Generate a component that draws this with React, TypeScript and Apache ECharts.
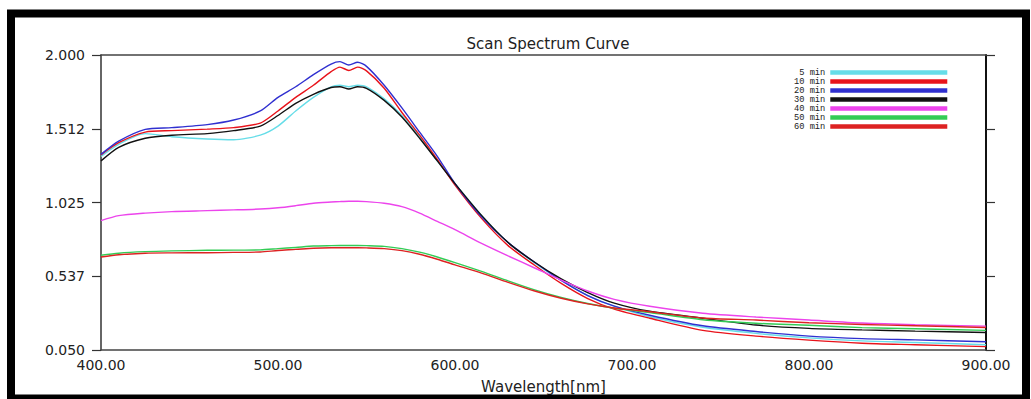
import React, { useEffect, useRef } from "react";
import * as echarts from "echarts";

const wavelengths = [400, 410, 425, 440, 460, 475, 490, 500, 510, 520, 530, 535, 540, 545, 550, 560, 570, 580, 590, 600, 615, 630, 645, 660, 675, 690, 710, 740, 770, 800, 830, 860, 900];

const min5 = [1.33, 1.41, 1.48, 1.46, 1.445, 1.44, 1.47, 1.53, 1.63, 1.72, 1.79, 1.8, 1.79, 1.8, 1.79, 1.71, 1.6, 1.46, 1.3, 1.15, 0.94, 0.76, 0.625, 0.51, 0.41, 0.34, 0.27, 0.2, 0.16, 0.13, 0.11, 0.1, 0.085];
const min10 = [1.34, 1.42, 1.49, 1.5, 1.51, 1.52, 1.55, 1.63, 1.72, 1.8, 1.89, 1.92, 1.898, 1.92, 1.895, 1.78, 1.62, 1.47, 1.31, 1.14, 0.92, 0.74, 0.61, 0.49, 0.39, 0.32, 0.26, 0.18, 0.142, 0.115, 0.095, 0.085, 0.072];
const min20 = [1.343, 1.43, 1.508, 1.52, 1.54, 1.57, 1.63, 1.72, 1.79, 1.87, 1.94, 1.956, 1.934, 1.952, 1.925, 1.8, 1.65, 1.49, 1.33, 1.15, 0.93, 0.76, 0.63, 0.51, 0.41, 0.34, 0.28, 0.21, 0.172, 0.142, 0.125, 0.117, 0.105];
const min30 = [1.3, 1.39, 1.45, 1.47, 1.48, 1.5, 1.53, 1.6, 1.68, 1.74, 1.785, 1.79, 1.775, 1.79, 1.78, 1.7, 1.59, 1.45, 1.3, 1.15, 0.94, 0.76, 0.63, 0.52, 0.43, 0.36, 0.306, 0.26, 0.215, 0.193, 0.183, 0.175, 0.166];
const min40 = [0.905, 0.938, 0.955, 0.965, 0.971, 0.976, 0.982, 0.99, 1.004, 1.02, 1.028, 1.031, 1.033, 1.033, 1.031, 1.02, 0.998, 0.955, 0.9, 0.845, 0.755, 0.672, 0.592, 0.512, 0.44, 0.385, 0.339, 0.293, 0.268, 0.248, 0.228, 0.217, 0.208];
const min50 = [0.676, 0.69, 0.7, 0.705, 0.709, 0.71, 0.712, 0.72, 0.728, 0.737, 0.74, 0.741, 0.741, 0.741, 0.74, 0.735, 0.72, 0.697, 0.665, 0.628, 0.57, 0.507, 0.447, 0.397, 0.357, 0.326, 0.297, 0.25, 0.227, 0.214, 0.198, 0.19, 0.18];
const min60 = [0.665, 0.68, 0.69, 0.692, 0.693, 0.695, 0.698, 0.708, 0.715, 0.723, 0.726, 0.726, 0.726, 0.726, 0.725, 0.72, 0.707, 0.683, 0.65, 0.613, 0.558, 0.497, 0.44, 0.392, 0.355, 0.328, 0.303, 0.262, 0.248, 0.23, 0.219, 0.21, 0.199];

const seriesNames = ["5 min", "10 min", "20 min", "30 min", "40 min", "50 min", "60 min"];
const seriesValues = [min5, min10, min20, min30, min40, min50, min60];
const seriesColors = ["#66dde8", "#e8131b", "#3030d0", "#111111", "#ec44ec", "#33cc55", "#dd2222"];

const yTickValues = [0.05, 0.5375, 1.025, 1.5125, 2.0];
const yTickLabels = ["0.050", "0.537", "1.025", "1.512", "2.000"];
const xTicks = [400, 500, 600, 700, 800, 900];

export default function App() {
  const ref = useRef<HTMLDivElement>(null);
  useEffect(() => {
    if (!ref.current) return;
    const chart = echarts.init(ref.current, null, { renderer: "svg" });
    const font = "DejaVu Sans";
    const yLabel = (v: number) => {
      let best = 0;
      for (let i = 0; i < yTickValues.length; i++) {
        if (Math.abs(yTickValues[i] - v) < Math.abs(yTickValues[best] - v)) best = i;
      }
      return yTickLabels[best];
    };
    chart.setOption({
      animation: false,
      backgroundColor: "#ffffff",
      title: {
        text: "Scan Spectrum Curve",
        left: 543,
        top: 31,
        textAlign: "center",
        textStyle: { fontFamily: font, fontSize: 15, fontWeight: "normal", color: "#222" },
      },
      legend: {
        orient: "vertical",
        left: 794,
        top: 68,
        padding: 0,
        itemGap: 0,
        align: "right",
        icon: "rect",
        itemWidth: 117,
        itemHeight: 4.5,
        data: seriesNames,
        formatter: (n: string) => n.padStart(6, " "),
        textStyle: { fontFamily: "Liberation Mono", fontSize: 8.7, lineHeight: 8.7, color: "#222" },
      },
      grid: { left: 101, right: 45, top: 55, bottom: 47 },
      xAxis: [
        {
          type: "value",
          min: xTicks[0],
          max: xTicks[xTicks.length - 1],
          interval: 100,
          position: "bottom",
          name: "Wavelength[nm]",
          nameLocation: "middle",
          nameGap: 29,
          nameTextStyle: { fontFamily: font, fontSize: 15, color: "#222" },
          axisLine: { show: true, lineStyle: { color: "#444", width: 1.5 } },
          axisTick: { show: false },
          splitLine: { show: false },
          axisLabel: {
            margin: 8,
            fontFamily: font,
            fontSize: 14,
            color: "#222",
            formatter: (v: number) => v.toFixed(2),
          },
        },
        {
          type: "value",
          min: xTicks[0],
          max: xTicks[xTicks.length - 1],
          position: "top",
          axisLine: { show: true, lineStyle: { color: "#444", width: 1.5 } },
          axisTick: { show: false },
          axisLabel: { show: false },
          splitLine: { show: false },
        },
      ],
      yAxis: [
        {
          type: "value",
          min: yTickValues[0],
          max: yTickValues[yTickValues.length - 1],
          position: "left",
          axisLine: { show: true, lineStyle: { color: "#333", width: 1.5 } },
          axisTick: { show: true, length: 9, inside: false, customValues: yTickValues, lineStyle: { color: "#333", width: 1.2 } },
          splitLine: { show: false },
          axisLabel: {
            customValues: yTickValues,
            margin: 16,
            fontFamily: font,
            fontSize: 14,
            color: "#222",
            formatter: yLabel,
          },
        },
        {
          type: "value",
          min: yTickValues[0],
          max: yTickValues[yTickValues.length - 1],
          position: "right",
          axisLine: { show: true, lineStyle: { color: "#111", width: 2 } },
          axisTick: { show: true, length: 9, inside: false, customValues: yTickValues, lineStyle: { color: "#333", width: 1.2 } },
          axisLabel: { show: false },
          splitLine: { show: false },
        },
      ],
      graphic: [
        {
          type: "rect",
          shape: { x: 11, y: 13.5, width: 1015, height: 385 },
          style: { fill: "none", stroke: "#000", lineWidth: 8 },
          silent: true,
          z: 100,
        },
      ],
      series: seriesNames.map((name, i) => ({
        name,
        type: "line",
        xAxisIndex: 0,
        yAxisIndex: 0,
        data: wavelengths.map((w, j) => [w, seriesValues[i][j]]),
        showSymbol: false,
        smooth: 0.25,
        color: seriesColors[i],
        lineStyle: { width: 1.4, color: seriesColors[i] },
      })),
    });
    return () => chart.dispose();
  }, []);
  return <div ref={ref} style={{ position: "fixed", left: 0, top: 0, width: 1031, height: 399 }} />;
}
